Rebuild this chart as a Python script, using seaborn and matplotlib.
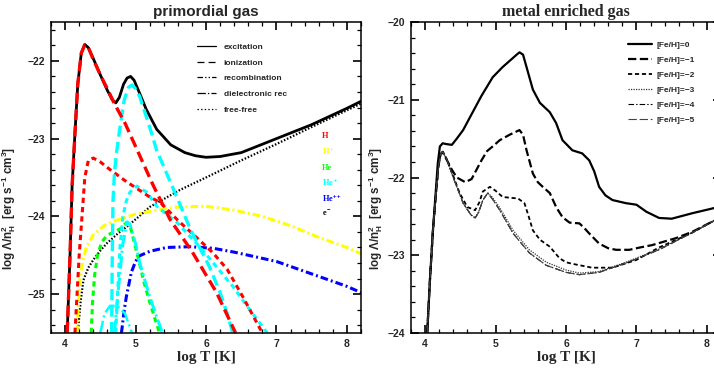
"""Cooling functions: primordial gas by process/species and metal enriched gas by [Fe/H]."""

import matplotlib

matplotlib.use("Agg")

import matplotlib.pyplot as plt
import seaborn as sns
from matplotlib.lines import Line2D
from matplotlib.ticker import FuncFormatter, MultipleLocator

# ---------------------------------------------------------------- primordial gas
# total cooling (black, thick solid)
T_total = [4.03, 4.07, 4.10, 4.14, 4.18, 4.23, 4.28, 4.33, 4.40, 4.50, 4.60, 4.67, 4.72,
           4.77, 4.83, 4.88, 4.93, 4.98, 5.05, 5.15, 5.30, 5.50, 5.70, 5.85, 6.00, 6.20,
           6.50, 7.00, 7.50, 8.00, 8.20]
L_total = [-25.5, -24.5, -23.6, -22.93, -22.3, -21.9, -21.79, -21.83, -21.97, -22.18, -22.38,
           -22.5, -22.54, -22.47, -22.3, -22.22, -22.2, -22.25, -22.4, -22.62, -22.88, -23.08,
           -23.18, -23.22, -23.24, -23.23, -23.18, -23.0, -22.82, -22.61, -22.52]

# H excitation (red long dash)
T_H_exc = [4.03, 4.07, 4.10, 4.14, 4.18, 4.23, 4.28, 4.33, 4.40, 4.50, 4.60, 4.70, 4.85,
           5.00, 5.25, 5.49, 5.80, 6.15, 6.42]
L_H_exc = [-25.5, -24.5, -23.6, -22.93, -22.3, -21.9, -21.79, -21.83, -21.98, -22.18, -22.36,
           -22.55, -22.8, -23.1, -23.6, -24.04, -24.45, -24.98, -25.5]

# H ionization (red short dash)
T_H_ion = [4.14, 4.17, 4.20, 4.24, 4.28, 4.33, 4.40, 4.50, 4.64, 4.88, 5.00, 5.20, 5.35,
           5.60, 5.90, 6.10, 6.30, 6.52, 6.80]
L_H_ion = [-25.5, -25.0, -24.5, -24.0, -23.5, -23.28, -23.25, -23.3, -23.4, -23.56, -23.63,
           -23.75, -23.82, -24.05, -24.3, -24.47, -24.68, -25.03, -25.5]

# H+ recombination (yellow dash-dot)
T_Hp_rec = [4.17, 4.19, 4.21, 4.25, 4.30, 4.40, 4.55, 4.70, 5.00, 5.30, 5.60, 6.00, 6.40,
            6.80, 7.20, 7.60, 8.00, 8.20]
L_Hp_rec = [-25.5, -25.1, -24.82, -24.58, -24.4, -24.24, -24.12, -24.06, -23.97, -23.92,
            -23.88, -23.87, -23.92, -24.0, -24.12, -24.27, -24.4, -24.48]

# He (green short dash)
T_He = [4.37, 4.39, 4.42, 4.46, 4.52, 4.60, 4.70, 4.80, 4.87, 4.93, 5.00, 5.06, 5.12,
        5.20, 5.27, 5.34]
L_He = [-25.5, -25.1, -24.75, -24.5, -24.33, -24.24, -24.2, -24.15, -24.08, -24.15, -24.4,
        -24.62, -24.85, -25.1, -25.3, -25.5]

# He+ excitation (cyan long dash, thick)
T_Hep_exc = [4.66, 4.67, 4.68, 4.70, 4.73, 4.78, 4.84, 4.90, 4.95, 5.00, 5.06, 5.20, 5.30,
             5.49, 5.60, 5.77, 5.92, 6.05, 6.20, 6.30, 6.38]
L_Hep_exc = [-25.5, -24.5, -23.8, -23.45, -23.18, -22.85, -22.5, -22.34, -22.31, -22.36,
             -22.46, -22.85, -23.15, -23.55, -23.78, -24.15, -24.42, -24.65, -24.98, -25.25,
             -25.5]

# He+ ionization (cyan short dash)
T_Hep_ion = [4.72, 4.75, 4.78, 4.82, 4.87, 4.92, 5.02, 5.16, 5.30, 5.59, 5.91, 6.15, 6.38,
             6.62, 6.87]
L_Hep_ion = [-25.5, -24.9, -24.39, -24.0, -23.8, -23.69, -23.61, -23.69, -23.87, -24.08,
             -24.39, -24.65, -24.9, -25.2, -25.5]

# He+ recombination (cyan long dash dot)
T_Hep_rec = [4.70, 4.76, 4.82, 4.88, 4.92, 5.00, 5.06, 5.20, 5.38]
L_Hep_rec = [-25.5, -24.9, -24.35, -24.07, -24.1, -24.35, -24.6, -25.03, -25.5]

# He+ dielectronic recombination (cyan, small bump)
T_Hep_die = [4.50, 4.56, 4.64, 4.74, 4.85, 4.95]
L_Hep_die = [-25.5, -25.25, -25.15, -25.15, -25.25, -25.5]

# He++ recombination (blue dash-dot)
T_Hepp_rec = [4.80, 4.84, 4.87, 4.94, 5.00, 5.05, 5.20, 5.44, 5.77, 6.10, 6.40, 7.00, 7.50,
              8.00, 8.20]
L_Hepp_rec = [-25.5, -25.2, -25.03, -24.72, -24.58, -24.51, -24.45, -24.4, -24.39, -24.41,
              -24.46, -24.58, -24.74, -24.9, -24.98]

# free-free (black dotted)
T_ff = [4.18, 4.22, 4.26, 4.33, 4.40, 4.50, 4.60, 4.75, 4.88, 5.05, 5.20, 5.63, 6.00, 6.50,
        7.00, 7.50, 8.20]
L_ff = [-25.5, -25.1, -24.82, -24.66, -24.56, -24.44, -24.34, -24.22, -24.13, -24.0, -23.88,
        -23.66, -23.5, -23.28, -23.07, -22.85, -22.55]

process_labels = ["excitation", "ionization", "recombination", "dielectronic rec", "free-free"]
species_labels = ["H", "H$^+$", "He", "He$^+$", "He$^{++}$", "e$^-$"]
species_colors = ["#ff0000", "#ffff00", "#00ff00", "#00ffff", "#0000ff", "#000000"]

# ------------------------------------------------------------ metal enriched gas
T_fe0 = [4.03, 4.07, 4.11, 4.15, 4.18, 4.21, 4.25, 4.30, 4.38, 4.45, 4.54, 4.64, 4.80, 4.96,
         5.10, 5.20, 5.30, 5.34, 5.39, 5.44, 5.53, 5.63, 5.77, 5.86, 5.95, 6.09, 6.23, 6.33,
         6.40, 6.47, 6.56, 6.66, 6.85, 7.00, 7.14, 7.32, 7.50, 7.79, 8.07, 8.20]
L_fe0 = [-24.0, -23.3, -22.7, -22.2, -21.82, -21.6, -21.56, -21.57, -21.58, -21.5, -21.39,
         -21.22, -20.95, -20.71, -20.58, -20.5, -20.42, -20.39, -20.42, -20.58, -20.87, -21.04,
         -21.16, -21.3, -21.52, -21.65, -21.69, -21.78, -21.92, -22.12, -22.23, -22.29, -22.33,
         -22.35, -22.44, -22.52, -22.53, -22.46, -22.4, -22.37]

T_fe1 = [4.03, 4.07, 4.11, 4.15, 4.19, 4.22, 4.25, 4.30, 4.38, 4.45, 4.57, 4.66, 4.73, 4.80,
         4.88, 4.96, 5.06, 5.20, 5.34, 5.39, 5.44, 5.53, 5.60, 5.67, 5.77, 5.86, 5.95, 6.05,
         6.19, 6.26, 6.33, 6.47, 6.60, 6.71, 6.90, 7.05, 7.22, 7.56, 7.79, 8.07, 8.20]
L_fe1 = [-24.0, -23.3, -22.7, -22.25, -21.85, -21.7, -21.67, -21.76, -21.9, -22.0, -22.06,
         -22.02, -21.9, -21.78, -21.66, -21.6, -21.52, -21.45, -21.39, -21.45, -21.65, -21.95,
         -22.06, -22.12, -22.2, -22.38, -22.51, -22.58, -22.59, -22.65, -22.72, -22.85, -22.91,
         -22.93, -22.93, -22.9, -22.87, -22.78, -22.7, -22.57, -22.52]

T_fe2 = [4.03, 4.07, 4.11, 4.15, 4.19, 4.22, 4.25, 4.30, 4.40, 4.49, 4.60, 4.71, 4.77, 4.82,
         4.92, 5.00, 5.10, 5.20, 5.32, 5.41, 5.47, 5.53, 5.63, 5.77, 5.91, 6.00, 6.09, 6.37,
         6.66, 7.00, 7.32, 7.79, 8.07, 8.20]
L_fe2 = [-24.0, -23.3, -22.7, -22.25, -21.85, -21.7, -21.67, -21.75, -21.98, -22.2, -22.38,
         -22.42, -22.32, -22.18, -22.12, -22.17, -22.25, -22.26, -22.27, -22.33, -22.5, -22.68,
         -22.8, -22.89, -23.04, -23.09, -23.11, -23.16, -23.16, -23.06, -22.9, -22.71, -22.57,
         -22.52]

T_fe3 = [4.03, 4.07, 4.11, 4.15, 4.19, 4.22, 4.25, 4.30, 4.40, 4.54, 4.65, 4.71, 4.76, 4.82,
         4.89, 4.95, 5.06, 5.25, 5.48, 5.72, 6.00, 6.19, 6.47, 6.85, 7.32, 7.79, 8.07, 8.20]
L_fe3 = [-24.0, -23.3, -22.7, -22.25, -21.85, -21.7, -21.67, -21.75, -22.0, -22.33, -22.48,
         -22.52, -22.44, -22.29, -22.2, -22.25, -22.39, -22.68, -22.93, -23.09, -23.19, -23.23,
         -23.21, -23.09, -22.92, -22.71, -22.57, -22.52]

T_fe4 = T_fe3
L_fe4 = [-24.0, -23.3, -22.7, -22.25, -21.85, -21.7, -21.67, -21.75, -22.0, -22.33, -22.48,
         -22.52, -22.45, -22.29, -22.2, -22.27, -22.42, -22.72, -22.97, -23.13, -23.22, -23.25,
         -23.22, -23.1, -22.93, -22.71, -22.57, -22.52]

T_fe5 = T_fe3
L_fe5 = L_fe4

fe_labels = ["[Fe/H]=0", "[Fe/H]=\u22121", "[Fe/H]=\u22122", "[Fe/H]=\u22123",
             "[Fe/H]=\u22124", "[Fe/H]=\u22125"]

# ---------------------------------------------------------------- styling
LONG_DASH = (0, (8, 3.8))
SHORT_DASH = (0, (3.8, 2.9))
DASH_DOT = (0, (5.5, 2.2, 1.4, 2.2))
LONG_DASH_DOT = (0, (9, 2.5, 1.5, 2.5))
DOTTED = (0, (1.1, 1.3))

sns.set_theme(style="ticks")
plt.rcParams.update({
    "font.family": ["Liberation Sans", "DejaVu Sans"],
    "mathtext.fontset": "custom",
    "mathtext.rm": "Liberation Sans:bold",
    "mathtext.bf": "Liberation Sans:bold",
    "mathtext.default": "bf",
    "axes.edgecolor": "black",
    "lines.scale_dashes": False,
})

YLABEL = "log \u039b/n$_H^2$  [erg s$^{-1}$ cm$^3$]"


def signed(value, _pos):
    return f"{value:g}".replace("-", "\u2212")


def style_axes(ax, ylim):
    ax.set_xlim(3.8, 8.2)
    ax.set_ylim(*ylim)
    ax.xaxis.set_major_locator(MultipleLocator(1))
    ax.xaxis.set_minor_locator(MultipleLocator(0.2))
    ax.yaxis.set_major_locator(MultipleLocator(1))
    ax.yaxis.set_minor_locator(MultipleLocator(0.2))
    ax.xaxis.set_major_formatter(FuncFormatter(signed))
    ax.yaxis.set_major_formatter(FuncFormatter(signed))
    for spine in ax.spines.values():
        spine.set_linewidth(1.1)
    ax.set_xlabel("log T [K]", family="Liberation Serif", fontsize=11, fontweight="bold",
                  labelpad=2)


def finish_ticks(ax):
    ax.tick_params(which="both", direction="in", top=True, right=True, color="black")
    ax.tick_params(which="major", length=5.5, width=1.2, labelsize=7.5, pad=4)
    ax.tick_params(which="minor", length=2.8, width=0.9)
    for label in ax.get_xticklabels() + ax.get_yticklabels():
        label.set_fontweight("bold")


def draw_primordial(ax):
    sns.lineplot(x=T_total, y=L_total, ax=ax, color="black", lw=2.0)
    curves = [
        (T_ff, L_ff, "black", DOTTED, 1.6),
        (T_Hp_rec, L_Hp_rec, species_colors[1], DASH_DOT, 2.2),
        (T_Hepp_rec, L_Hepp_rec, species_colors[4], DASH_DOT, 2.2),
        (T_He, L_He, species_colors[2], SHORT_DASH, 2.2),
        (T_Hep_die, L_Hep_die, species_colors[3], LONG_DASH_DOT, 1.8),
        (T_Hep_rec, L_Hep_rec, species_colors[3], LONG_DASH_DOT, 2.2),
        (T_Hep_ion, L_Hep_ion, species_colors[3], SHORT_DASH, 2.2),
        (T_H_ion, L_H_ion, species_colors[0], SHORT_DASH, 2.2),
        (T_Hep_exc, L_Hep_exc, species_colors[3], LONG_DASH, 2.4),
        (T_H_exc, L_H_exc, species_colors[0], LONG_DASH, 2.4),
    ]
    for xs, ys, color, ls, lw in curves:
        line = sns.lineplot(x=xs, y=ys, ax=ax, color=color, lw=lw).lines[-1]
        line.set_linestyle(ls)

    style_axes(ax, (-25.5, -21.5))
    ax.set_title("primordial gas", family="Liberation Sans", fontsize=11, fontweight="bold",
                 pad=4)
    ax.set_ylabel(YLABEL, fontsize=8.4, fontweight="bold")
    ax.yaxis.set_label_coords(-0.105, 0.40)

    styles = ["-", (0, (5, 3)), (0, (4, 1.5, 1, 1.5, 1, 1.5)), (0, (6, 1.5, 1, 1.5)), (0, (1, 1.6))]
    handles = [Line2D([], [], color="black", lw=0.9, linestyle=s) for s in styles]
    ax.legend(handles, process_labels, loc="upper left", bbox_to_anchor=(0.46, 0.942),
              frameon=False, handlelength=2.3, handletextpad=0.9, labelspacing=0.93,
              borderaxespad=0, prop={"weight": "bold", "size": 6})

    for i, (label, color) in enumerate(zip(species_labels, species_colors)):
        ax.text(0.875, 0.632 - i * 0.05, label, transform=ax.transAxes, color=color,
                fontsize=6, fontweight="bold", family="Liberation Serif", va="center")


def draw_metals(ax):
    series = [
        (T_fe0, L_fe0, "-", 1.6, "black"),
        (T_fe1, L_fe1, (0, (6, 2.5)), 1.6, "black"),
        (T_fe2, L_fe2, (0, (3, 2)), 1.3, "black"),
        (T_fe3, L_fe3, (0, (0.9, 0.9)), 0.9, "#333333"),
        (T_fe4, L_fe4, (0, (4, 1.5, 1, 1.5)), 0.8, "black"),
        (T_fe5, L_fe5, (0, (6, 2)), 0.8, "#444444"),
    ]
    for (xs, ys, ls, lw, color), label in zip(series, fe_labels):
        line = sns.lineplot(x=xs, y=ys, ax=ax, color=color, lw=lw, label=label).lines[-1]
        line.set_linestyle(ls)

    style_axes(ax, (-24, -20))
    ax.set_title("metal enriched gas", family="Liberation Serif", fontsize=11.5,
                 fontweight="bold", pad=4)
    ax.set_ylabel(YLABEL, fontsize=8.4, fontweight="bold")
    ax.yaxis.set_label_coords(-0.084, 0.40)
    handles, labels = ax.get_legend_handles_labels()
    ax.legend(handles, labels, loc="upper left", bbox_to_anchor=(0.69, 0.948), frameon=False,
              handlelength=2.9, handletextpad=0.5, labelspacing=0.85, borderaxespad=0,
              prop={"weight": "bold", "size": 6})


if __name__ == "__main__":
    fig = plt.figure(figsize=(7.14, 3.72), dpi=100)
    ax_left = fig.add_axes([51 / 714, 39 / 372, 310 / 714, 311 / 372])
    ax_right = fig.add_axes([411 / 714, 39 / 372, 310 / 714, 311 / 372])
    draw_primordial(ax_left)
    draw_metals(ax_right)
    finish_ticks(ax_left)
    finish_ticks(ax_right)
    fig.savefig("out.png", dpi=100)
    plt.close(fig)
